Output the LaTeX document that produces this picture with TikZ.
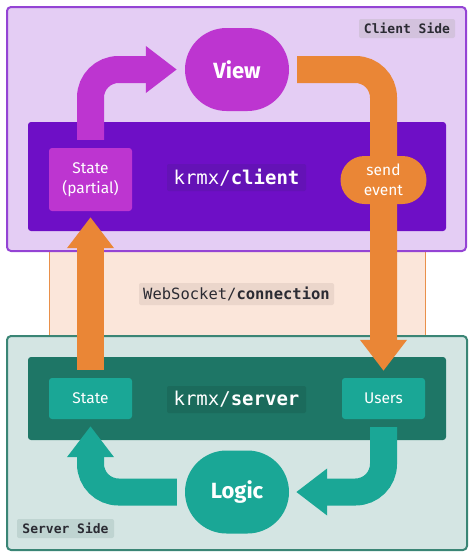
\documentclass[tikz,border=0pt]{standalone}
\usepackage{fontspec}
\setmainfont{Fira Sans}
\setmonofont{DejaVu Sans Mono}
\usetikzlibrary{arrows.meta,shapes.misc}
\definecolor{clientbg}{HTML}{E4CDF4}
\definecolor{clientline}{HTML}{9444D4}
\definecolor{clientcore}{HTML}{6E0FC6}
\definecolor{clienttag}{HTML}{6412B6}
\definecolor{magenta}{HTML}{BD35D0}
\definecolor{sidetagc}{HTML}{D3C2DD}
\definecolor{orange}{HTML}{EA8636}
\definecolor{wirebg}{HTML}{FBE6DA}
\definecolor{wireline}{HTML}{E9904A}
\definecolor{wiretag}{HTML}{EBD6CB}
\definecolor{serverbg}{HTML}{D4E5E3}
\definecolor{serverline}{HTML}{3A8575}
\definecolor{servercore}{HTML}{1E7666}
\definecolor{servertag}{HTML}{1B6B5C}
\definecolor{sidetags}{HTML}{BFD4D1}
\definecolor{teal}{HTML}{1AA796}
\definecolor{tagtext}{HTML}{2B2B33}
\begin{document}
\begin{tikzpicture}[x=1pt,y=-1pt,
    side/.style={rounded corners=4pt,line width=2pt},
    core/.style={rounded corners=3pt},
    tag/.style={rounded corners=2pt,inner sep=0pt,text=tagtext,
      font=\ttfamily\bfseries\fontsize{13}{13}\selectfont,minimum height=19pt},
    pkg/.style={rounded corners=2pt,inner sep=0pt,text=white,
      font=\ttfamily\fontsize{19}{19}\selectfont,minimum width=139pt,minimum height=27pt},
    part/.style={rounded corners=3pt,inner sep=0pt,text=white,align=center,
      font=\fontsize{15.5}{20}\selectfont,minimum width=83pt},
    blob/.style={rounded rectangle,inner sep=0pt,text=white,
      font=\bfseries\fontsize{22}{22}\selectfont,minimum width=104pt,minimum height=83pt},
    flow/.style={line width=27pt,rounded corners=28pt,
      -{Triangle[width=45pt,length=31pt]}}]
  \useasboundingbox (0,0) rectangle (474,557);
  % the three layers
  \fill[wirebg] (49,240) rectangle (425,346);
  \draw[wireline,line width=1pt] (49,240) -- (49,346) (425,240) -- (425,346);
  \draw[side,fill=clientbg,draw=clientline] (7,7) rectangle (466,251);
  \draw[side,fill=serverbg,draw=serverline] (7,336) rectangle (467,550);
  \fill[core,clientcore] (28,122) rectangle (446,231);
  \fill[core,servercore] (28,357) rectangle (446,440);
  % labels
  \node[tag,fill=sidetagc,minimum width=96pt] (clientside) at (407,28.5) {Client Side};
  \node[tag,fill=sidetags,minimum width=97pt] (serverside) at (65.5,528.5) {Server Side};
  \node[tag,fill=wiretag,minimum width=195pt,minimum height=22pt,
    font=\ttfamily\fontsize{15.5}{15.5}\selectfont] (wire) at (236.5,294)
    {WebSocket/\textbf{connection}};
  \node[pkg,fill=clienttag] (client) at (236.5,177.5) {krmx/\textbf{client}};
  \node[pkg,fill=servertag] (server) at (236.5,399.5) {krmx/\textbf{server}};
  % nodes
  \node[blob,fill=magenta] (view) at (237,69.5) {View};
  \node[blob,fill=teal] (logic) at (237,492) {Logic};
  \node[part,fill=magenta,minimum height=63pt] (partial) at (90.5,179.5) {State\\(partial)};
  \node[part,fill=teal,minimum height=41pt] (state) at (90.5,398.5) {State};
  \node[part,fill=teal,minimum height=41pt] (users) at (383.5,398.5) {Users};
  % arrows
  \draw[flow,magenta,shorten <=8pt,shorten >=8pt] (partial.north) |- (view.west);
  \draw[flow,orange,shorten <=8pt,shorten >=7pt] (view.east) -| (users.north);
  \draw[flow,orange,shorten <=8pt,shorten >=6pt] (state.north) -- (partial.south);
  \draw[flow,teal,shorten <=8pt,shorten >=7pt] (users.south) |- (logic.east);
  \draw[flow,teal,shorten <=8pt,shorten >=7pt] (logic.west) -| (state.south);
  \node[rounded rectangle,fill=orange,text=white,align=center,inner sep=0pt,
    font=\fontsize{15.5}{20}\selectfont,minimum width=86pt,minimum height=48pt]
    (send) at (383.5,180) {send\\event};
\end{tikzpicture}
\end{document}
